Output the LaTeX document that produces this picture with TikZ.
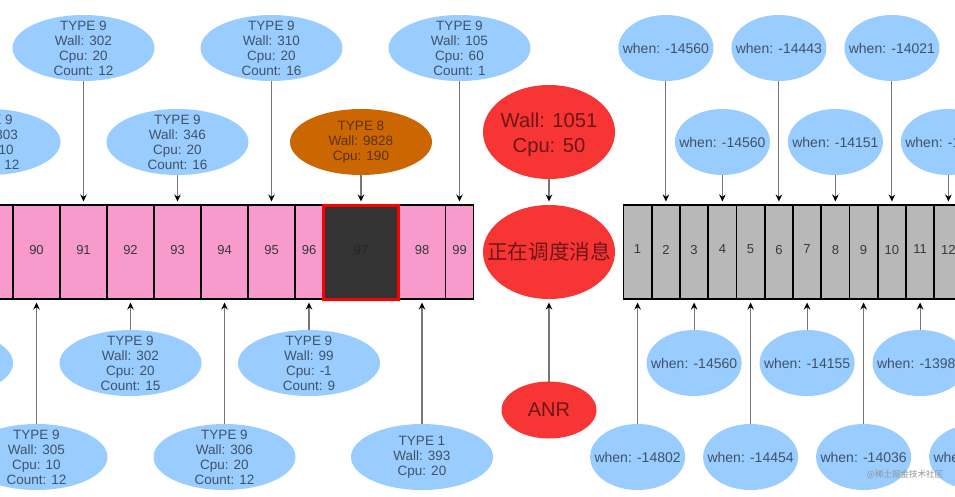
\documentclass[tikz,border=0pt]{standalone}
\usepackage{fontspec}
\setmainfont{Liberation Sans}
\newfontfamily\cjkfont{Noto Sans CJK SC}
\usetikzlibrary{shapes.geometric,arrows.meta}
\definecolor{bluefill}{HTML}{99CCFF}
\definecolor{bluetext}{HTML}{3F5368}
\definecolor{pinkfill}{HTML}{F89BCC}
\definecolor{greyfill}{HTML}{B8B8B8}
\definecolor{orangefill}{HTML}{CC6600}
\definecolor{orangetext}{HTML}{593212}
\definecolor{redfill}{HTML}{F83535}
\definecolor{redtext}{HTML}{6E1616}
\definecolor{darkfill}{HTML}{333333}
\definecolor{conncolor}{HTML}{777777}
\tikzset{
  x=1pt,y=-1pt,
  oval/.style={shape=ellipse,inner sep=-70pt,outer sep=0pt,align=center},
  evt/.style={oval,fill=bluefill,text=bluetext,minimum width=142pt,minimum height=66pt,font=\fontsize{13.5}{15}\selectfont},
  whenoval/.style={oval,fill=bluefill,text=bluetext,minimum width=95pt,minimum height=66pt,font=\fontsize{14}{15}\selectfont},
  hotoval/.style={evt,fill=orangefill,text=orangetext},
  redoval/.style={oval,fill=redfill,text=redtext},
  cellbox/.style={shape=rectangle,draw=black,line width=1.5pt,inner sep=0pt,outer sep=0pt,minimum height=94pt,text=black!78,font=\fontsize{13}{15}\selectfont},
  pinkcell/.style={cellbox,fill=pinkfill},
  greycell/.style={cellbox,fill=greyfill,minimum width=28.25pt},
  conn/.style={draw=conncolor,line width=1.1pt,-{Stealth[length=7pt,width=6.5pt,color=black]},shorten >=3.5pt},
  mark97/.style={cellbox,fill=darkfill,draw=red,line width=3pt,minimum width=75pt,minimum height=94pt,text=black!85},
}
\begin{document}
\begin{tikzpicture}
\useasboundingbox (0,0) rectangle (955,496);
\clip (0,0) rectangle (955,496);
\fill[white] (0,0) rectangle (955,496);
% pink queue
\node[pinkcell,minimum width=47pt] (c89) at (-10.5,252) {};
\foreach \n/\x in {90/36.5,91/83.5,92/130.5,93/177.5,94/224.5,95/271.5}
  \node[pinkcell,minimum width=47pt] (c\n) at (\x,252) {\raisebox{5pt}{\n}};
\node[pinkcell,minimum width=28pt] (c96) at (309,252) {\raisebox{5pt}{96}};
\node[pinkcell,minimum width=47pt] (c98) at (422,252) {\raisebox{5pt}{98}};
\node[pinkcell,minimum width=28pt] (c99) at (459.5,252) {\raisebox{5pt}{99}};
\node[mark97] (c97) at (361,252) {\raisebox{5pt}{97}};
% grey queue
\foreach \n/\x in {1/637.6,2/665.9,3/694.1,4/722.4,5/750.6,6/778.9,7/807.1,8/835.4,9/863.6,10/891.9,11/920.1,12/948.4}
  \node[greycell] (g\n) at (\x,252) {\raisebox{5pt}{\n}};
% blue events, top
\node[evt] (e91) at (83.5,48) {TYPE 9\\Wall: 302\\Cpu: 20\\Count: 12};
\node[evt] (e95) at (271.5,48) {TYPE 9\\Wall: 310\\Cpu: 20\\Count: 16};
\node[evt] (e99) at (459.5,48) {TYPE 9\\Wall: 105\\Cpu: 60\\Count: 1};
\node[evt] (e89) at (-10.5,142) {TYPE 9\\Wall: 303\\Cpu: 10\\Count: 12};
\node[evt] (e93) at (177.5,142) {TYPE 9\\Wall: 346\\Cpu: 20\\Count: 16};
\node[hotoval] (e97) at (361,142) {TYPE 8\\Wall: 9828\\Cpu: 190};
% blue events, bottom
\node[evt] (e88) at (-58,363) {};
\node[evt] (e92) at (130.5,363) {TYPE 9\\Wall: 302\\Cpu: 20\\Count: 15};
\node[evt] (e96) at (309,363) {TYPE 9\\Wall: 99\\Cpu: -1\\Count: 9};
\node[evt] (e90) at (36.5,457) {TYPE 9\\Wall: 305\\Cpu: 10\\Count: 12};
\node[evt] (e94) at (224.5,457) {TYPE 9\\Wall: 306\\Cpu: 20\\Count: 12};
\node[evt] (e98) at (422,457) {TYPE 1\\Wall: 393\\Cpu: 20};
% red column
\node[redoval,minimum width=132pt,minimum height=94pt,font=\fontsize{20.2}{25}\selectfont] (r1) at (549,132) {\rule{0pt}{20.5pt}Wall: 1051\\Cpu: 50};
\node[redoval,minimum width=132pt,minimum height=94pt,font=\cjkfont\fontsize{20.6}{25}\selectfont] (r2) at (549,252) {正在调度消息};
\node[redoval,minimum width=95pt,minimum height=57pt,font=\fontsize{20}{25}\selectfont] (r3) at (549,410) {ANR};
% when ovals
\node[whenoval] (w2) at (665.9,48) {when: -14560};
\node[whenoval] (w6) at (778.9,48) {when: -14443};
\node[whenoval] (w10) at (891.9,48) {when: -14021};
\node[whenoval] (w4) at (722.4,142) {when: -14560};
\node[whenoval] (w8) at (835.4,142) {when: -14151};
\node[whenoval] (w12) at (948.4,142) {when: -1\phantom{4000}};
\node[whenoval] (w3) at (694.1,363) {when: -14560};
\node[whenoval] (w7) at (807.1,363) {when: -14155};
\node[whenoval] (w11) at (920.1,363) {when: -1398\phantom{0}};
\node[whenoval] (w1) at (637.6,457) {when: -14802};
\node[whenoval] (w5) at (750.6,457) {when: -14454};
\node[whenoval] (w9) at (863.6,457) {when: -14036};
\node[whenoval] (w13) at (976.6,457) {whe\phantom{n: -14000}};
% connectors
\foreach \n in {91,93,95,97,99}
  \draw[conn] (e\n.south) -- (c\n.north);
\foreach \n in {90,92,94,96,98}
  \draw[conn] (e\n.north) -- (c\n.south);
\foreach \n in {2,4,6,8,10,12}
  \draw[conn] (w\n.south) -- (g\n.north);
\foreach \n in {1,3,5,7,9,11}
  \draw[conn] (w\n.north) -- (g\n.south);
\draw[conn] (r1.south) -- (r2.north);
\draw[conn] (r3.north) -- (r2.south);
% watermark
\node[text=black!42,inner sep=0pt,font=\cjkfont\fontsize{8.5}{10}\selectfont] (wm) at (905,475) {@稀土掘金技术社区};
\end{tikzpicture}
\end{document}
